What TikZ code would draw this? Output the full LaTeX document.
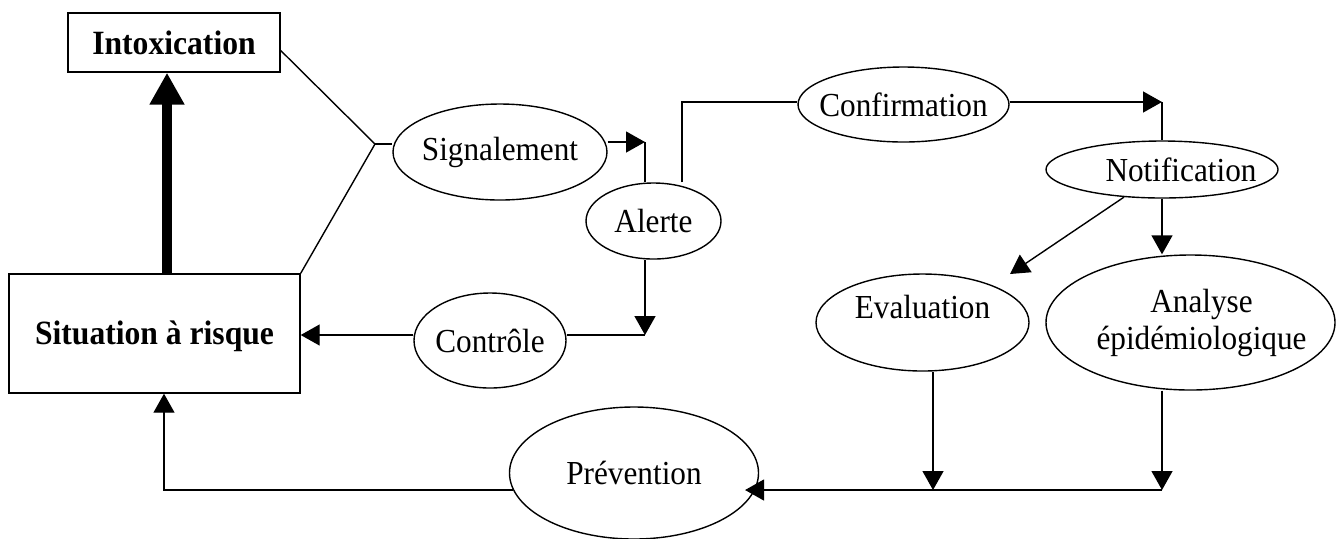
\documentclass[tikz,border=0pt]{standalone}
\usepackage{fontspec}
\setmainfont[FakeStretch=0.93]{Liberation Serif}
\usetikzlibrary{shapes.geometric,arrows.meta}

\newcommand{\etiq}[1]{\makebox[0pt]{#1}}

\begin{document}
\begin{tikzpicture}[x=0.5pt, y=-0.5pt, line width=0.7pt,
  every node/.style={font=\fontsize{16.8}{18.5}\selectfont},
  boite/.style={rectangle, draw, inner sep=0pt, font=\fontsize{17}{19}\selectfont\bfseries},
  bulle/.style={ellipse, draw, inner sep=0pt},
  fleche/.style={-{Triangle[length=9.5pt,width=10.5pt]}},
  grosse/.style={line width=5pt, -{Triangle[length=16pt,width=16.5pt]}}]
  \useasboundingbox (0,0) rectangle (1343,538);
  \node[boite, minimum width=106pt, minimum height=29.5pt] (intox) at (174,42.5) {Intoxication};
  \node[boite, minimum width=145.5pt, minimum height=59.5pt, text height=1.45em] (situ) at (154.5,333.5) {Situation à risque};
  \node[bulle, minimum width=107pt, minimum height=48pt] (sig) at (500,152) {\etiq{Signalement}};
  \node[bulle, minimum width=67.5pt, minimum height=38pt] (alerte) at (653.5,221) {Alerte};
  \node[bulle, minimum width=76pt, minimum height=47.5pt] (ctrl) at (490,340.5) {\etiq{Contrôle}};
  \node[bulle, minimum width=105.5pt, minimum height=37.5pt] (conf) at (903.5,104.5) {\etiq{Confirmation}};
  \node[bulle, minimum width=116pt, minimum height=28.5pt] (notif) at (1162,169.5) {\etiq{\hspace*{19pt}Notification}};
  \node[bulle, minimum width=106.5pt, minimum height=48.5pt, align=center] (eval) at (922.5,322.5) {Evaluation\\[-3pt]\mbox{}};
  \node[bulle, minimum width=144.5pt, minimum height=67.5pt, align=center] (analyse) at (1190.5,322.5) {\etiq{\hspace*{11pt}Analyse}\\\etiq{\hspace*{11pt}épidémiologique}};
  \node[bulle, minimum width=124.5pt, minimum height=66pt] (prev) at (634,473) {Prévention};
  % points de passage
  \coordinate (tx) at (167,0);
  \coordinate (fourche) at (375,144);
  \coordinate (a1) at (645,142);
  \coordinate (a2) at (645,335);
  \coordinate (a3) at (682,102);
  \coordinate (a4) at (1162,102);
  \coordinate (e1) at (1010,274);
  \coordinate (b1) at (933,490);
  \coordinate (b2) at (1162,490);
  \coordinate (b3) at (164,490);
  \draw[grosse] (tx |- situ.north) -- (tx |- intox.south);
  \draw ([yshift=-4pt]intox.east) -- (fourche) -- (situ.north east);
  \draw (fourche) -- (fourche -| sig.west);
  \draw[fleche] (sig.east |- a1) -- (a1);
  \draw (a1) -- (alerte.north -| a1);
  \draw[fleche] (alerte.south -| a2) -- (a2);
  \draw (ctrl.east |- a2) -- (a2);
  \draw[fleche] (ctrl.west |- a2) -- (situ.east |- a2);
  \draw (alerte.north -| a3) -- (a3) -- (conf.west |- a3);
  \draw[fleche] (conf.east |- a4) -- (a4);
  \draw (a4) -- (notif.north);
  \draw[fleche] (notif.216) -- (e1);
  \draw[fleche] (notif.south) -- (analyse.north -| notif.south);
  \draw[fleche] (eval.south -| b1) -- (b1);
  \draw[fleche] (analyse.south -| b2) -- (b2);
  \draw[fleche, shorten >=-5pt] (b2) -- (prev.-8 |- b2);
  \draw[fleche] (prev.188 |- b3) -- (b3) -- (b3 |- situ.south);
\end{tikzpicture}
\end{document}
